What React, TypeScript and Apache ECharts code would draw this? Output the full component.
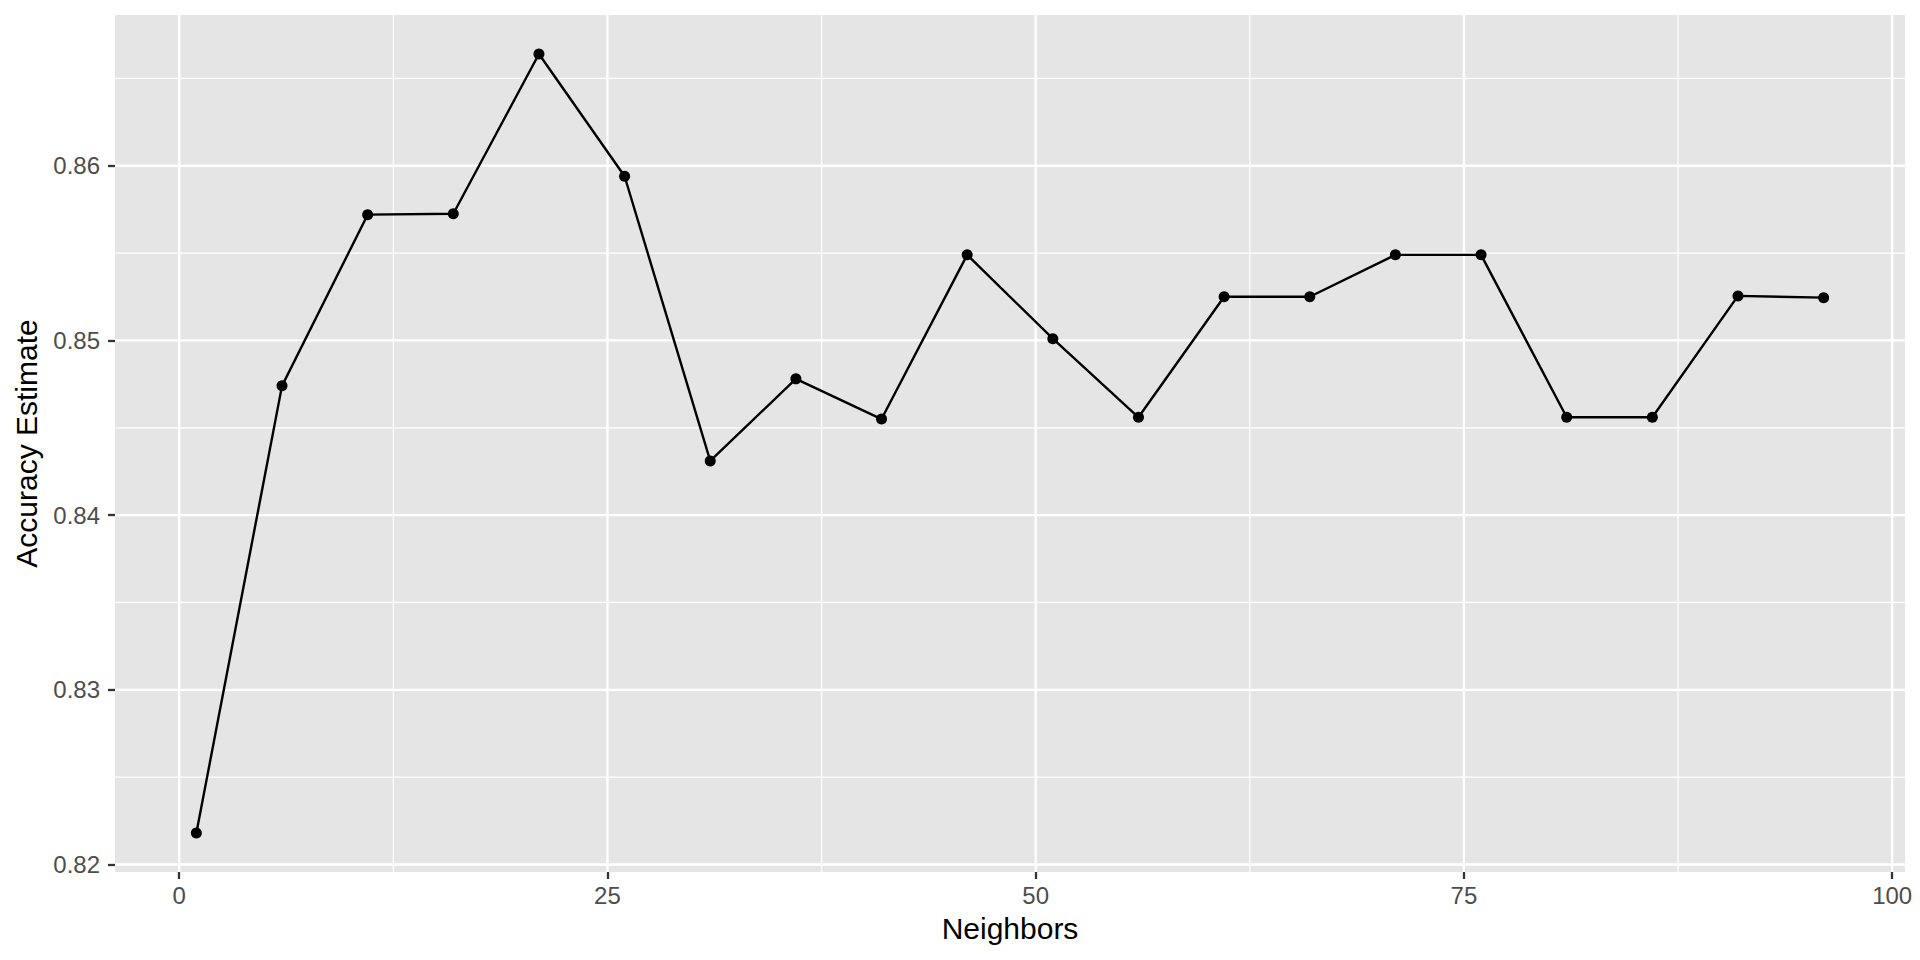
import React, { useEffect, useRef } from "react";
import * as echarts from "echarts";

// ---- data ----
const neighbors = [1, 6, 11, 16, 21, 26, 31, 36, 41, 46, 51, 56, 61, 66, 71, 76, 81, 86, 91, 96];
const accuracy = [
  0.8218, 0.8474, 0.8572, 0.85725, 0.8664, 0.8594, 0.8431, 0.8478, 0.8455, 0.8549,
  0.8501, 0.8456, 0.8525, 0.8525, 0.8549, 0.8549, 0.8456, 0.8456, 0.85255, 0.85245,
];
const xMajorTicks = [0, 25, 50, 75, 100];
const xMinorTicks = [12.5, 37.5, 62.5, 87.5];
const yMajorTicks = [0.82, 0.83, 0.84, 0.85, 0.86];
const yMinorTicks = [0.825, 0.835, 0.845, 0.855, 0.865];
const xTitle = "Neighbors";
const yTitle = "Accuracy Estimate";

// ggplot-style 5% expansion of the data range
const expand = (vals: number[]) => {
  const lo = Math.min(...vals);
  const hi = Math.max(...vals);
  const pad = (hi - lo) * 0.05;
  return [lo - pad, hi + pad];
};

const FONT = "'Liberation Sans', Arial, Helvetica, sans-serif";

export default function App() {
  const ref = useRef<HTMLDivElement>(null);

  useEffect(() => {
    if (!ref.current) return;
    const chart = echarts.init(ref.current, undefined, { renderer: "svg" });
    const [xMin, xMax] = expand(neighbors);
    const [yMin, yMax] = expand(accuracy);

    const vGrid = [
      ...xMajorTicks.map((v) => [v, yMin, 1]),
      ...xMinorTicks.map((v) => [v, yMin, 0]),
    ];
    const hGrid = [
      ...yMajorTicks.map((v) => [xMin, v, 1]),
      ...yMinorTicks.map((v) => [xMin, v, 0]),
    ];

    chart.setOption({
      animation: false,
      backgroundColor: "#ffffff",
      grid: {
        left: 115,
        top: 15,
        right: 15,
        bottom: 88,
        show: true,
        backgroundColor: "#E5E5E5",
        borderWidth: 0,
        containLabel: false,
        outerBoundsMode: "none",
      },
      xAxis: {
        type: "value",
        min: xMin,
        max: xMax,
        z: 5,
        name: xTitle,
        nameLocation: "middle",
        nameGap: 41,
        nameTextStyle: { color: "#000000", fontSize: 30, fontFamily: FONT },
        axisLine: { show: false, onZero: false },
        splitLine: { show: false },
        axisTick: {
          show: true,
          inside: false,
          customValues: xMajorTicks,
          length: 7,
          lineStyle: { color: "#333333", width: 2.3 },
        },
        axisLabel: {
          customValues: xMajorTicks,
          margin: 11,
          color: "#4D4D4D",
          fontSize: 24,
          fontFamily: FONT,
          formatter: (v: number) => String(Math.round(v)),
        },
      },
      yAxis: {
        type: "value",
        min: yMin,
        max: yMax,
        z: 5,
        name: yTitle,
        nameLocation: "middle",
        nameRotate: 90,
        nameGap: 74,
        nameTextStyle: { color: "#000000", fontSize: 30, fontFamily: FONT },
        axisLine: { show: false, onZero: false },
        splitLine: { show: false },
        axisTick: {
          show: true,
          inside: false,
          customValues: yMajorTicks,
          length: 7,
          lineStyle: { color: "#333333", width: 2.3 },
        },
        axisLabel: {
          customValues: yMajorTicks,
          margin: 15,
          color: "#4D4D4D",
          fontSize: 24,
          fontFamily: FONT,
          formatter: (v: number) => v.toFixed(2),
        },
      },
      series: [
        {
          type: "custom",
          name: "vgrid",
          silent: true,
          z: 1,
          data: vGrid,
          renderItem: (params: any, api: any) => {
            const cs = params.coordSys;
            const x = api.coord([api.value(0), api.value(1)])[0];
            return {
              type: "line",
              shape: { x1: x, y1: cs.y, x2: x, y2: cs.y + cs.height },
              style: { stroke: "#ffffff", lineWidth: api.value(2) ? 2.3 : 1.2 },
            };
          },
        },
        {
          type: "custom",
          name: "hgrid",
          silent: true,
          z: 1,
          data: hGrid,
          renderItem: (params: any, api: any) => {
            const cs = params.coordSys;
            const y = api.coord([api.value(0), api.value(1)])[1];
            return {
              type: "line",
              shape: { x1: cs.x, y1: y, x2: cs.x + cs.width, y2: y },
              style: { stroke: "#ffffff", lineWidth: api.value(2) ? 2.3 : 1.2 },
            };
          },
        },
        {
          type: "line",
          name: "accuracy",
          z: 3,
          data: neighbors.map((n, i) => [n, accuracy[i]]),
          symbol: "circle",
          symbolSize: 11,
          showSymbol: true,
          itemStyle: { color: "#000000" },
          lineStyle: { color: "#000000", width: 2.4 },
        },
      ],
    });

    return () => chart.dispose();
  }, []);

  return (
    <div
      ref={ref}
      style={{ position: "fixed", left: 0, top: 0, width: "1920px", height: "960px" }}
    />
  );
}
